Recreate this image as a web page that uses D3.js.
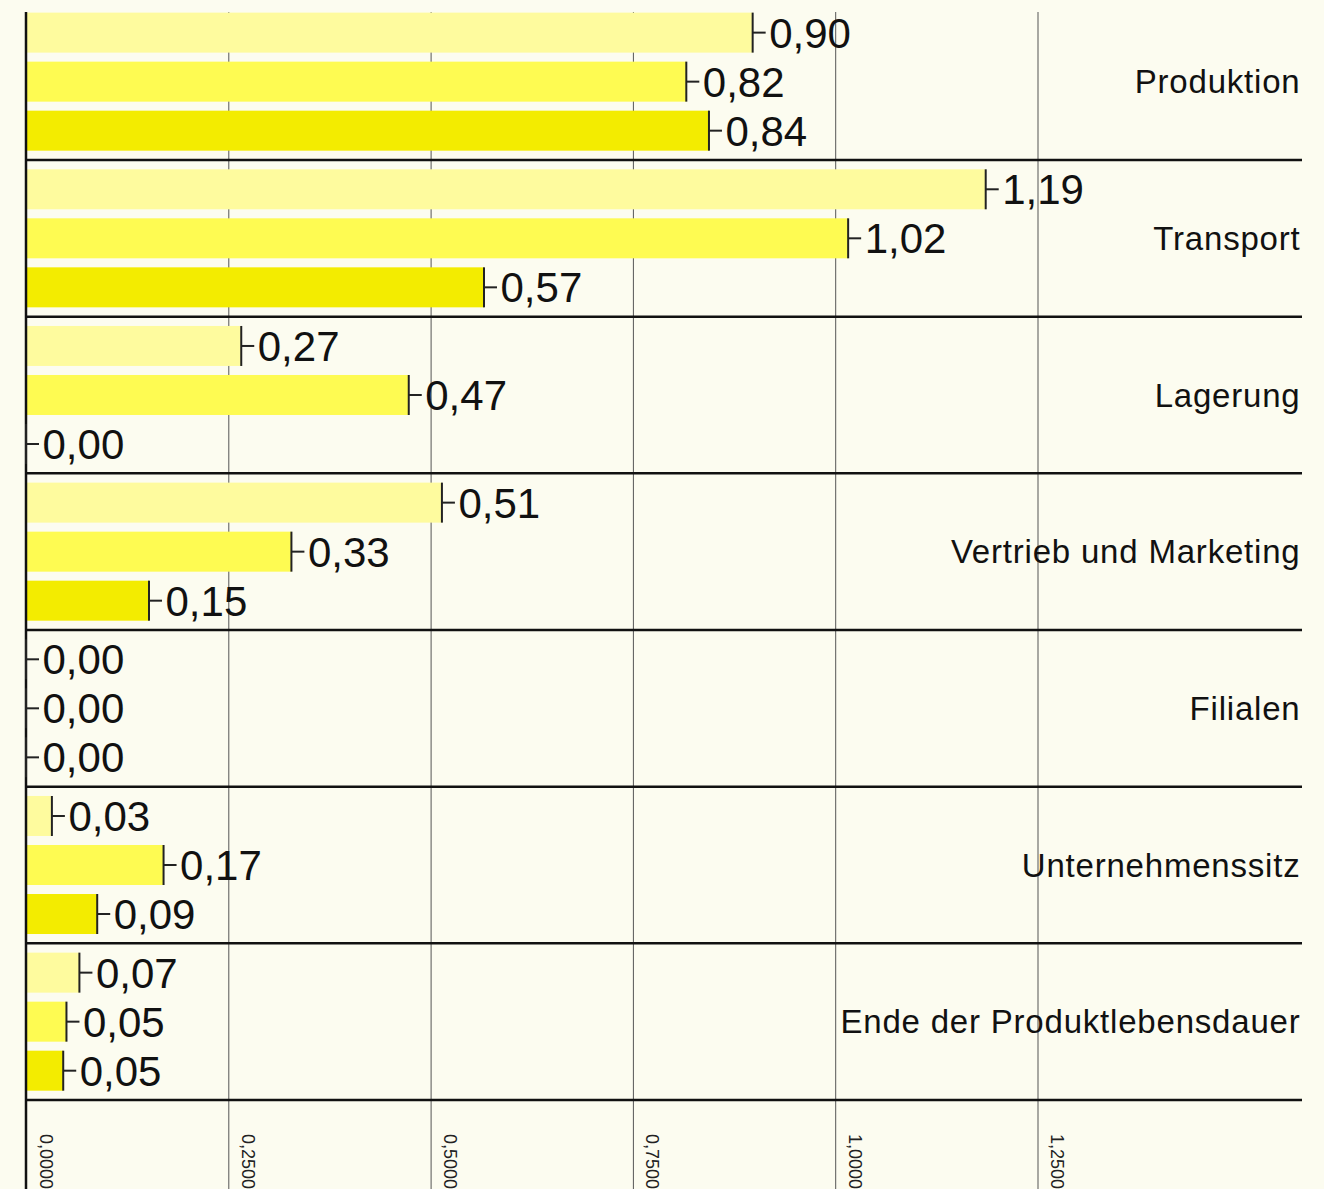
<!DOCTYPE html>
<html>
<head>
<meta charset="utf-8">
<script src="https://cdn.jsdelivr.net/npm/d3@7"></script>
<style>
  html, body { margin: 0; padding: 0; background: #FCFCF0; }
  svg { display: block; }
</style>
</head>
<body>
<svg id="chart" width="1324" height="1189"></svg>
<script>
// ---- data ----
const categories = ["Produktion", "Transport", "Lagerung", "Vertrieb und Marketing", "Filialen", "Unternehmenssitz", "Ende der Produktlebensdauer"];
const series1 = [0.898, 1.186, 0.266, 0.514, 0, 0.032, 0.066];
const series2 = [0.816, 1.016, 0.473, 0.328, 0, 0.170, 0.050];
const series3 = [0.844, 0.566, 0, 0.152, 0, 0.088, 0.046];
const seriesNames = ["s1", "s2", "s3"];
const seriesColors = ["#FEFB9E", "#FEFB52", "#F3EC00"];
const tickValues = [0, 0.25, 0.5, 0.75, 1.0, 1.25];

const W = 1324, H = 1189;
const plotTop = 12, plotBottom = 1100, plotLeft = 26, plotRight = 1302;
const groupH = 156.67;

const svg = d3.select("#chart");

const x = d3.scaleLinear().domain([0, 1.25]).range([plotLeft, 1037.5]);
const y0 = d3.scaleBand().domain(categories)
  .range([plotBottom - groupH * categories.length, plotBottom])
  .paddingInner(0).paddingOuter(0);
const y1 = d3.scaleBand().domain(seriesNames)
  .range([0, y0.bandwidth()])
  .paddingInner(0.184).paddingOuter(0.19);
const color = d3.scaleOrdinal().domain(seriesNames).range(seriesColors);

const fmt2 = v => d3.format(".2f")(v).replace(".", ",");
const fmt4 = v => d3.format(".4f")(v).replace(".", ",");

// grid + tick labels via axis
const axis = svg.append("g")
  .attr("transform", `translate(0,${H})`)
  .call(d3.axisBottom(x).tickValues(tickValues).tickSize(-(H - plotTop)).tickFormat(fmt4));
axis.select(".domain").remove();
axis.selectAll(".tick line").attr("stroke", "#555").attr("stroke-width", 1);
axis.selectAll(".tick text")
  .attr("transform", "rotate(90)")
  .attr("x", -55).attr("y", -13).attr("dy", 0)
  .attr("text-anchor", "start")
  .attr("fill", "#222")
  .style("font-family", "'Liberation Sans', Arial, sans-serif")
  .style("font-size", "18px");

const rows = [];
categories.forEach((c, i) => {
  [series1, series2, series3].forEach((s, j) => {
    rows.push({ cat: c, ser: seriesNames[j], value: s[i] });
  });
});

// bars
svg.append("g").selectAll("rect").data(rows).join("rect")
  .attr("x", x(0))
  .attr("y", d => y0(d.cat) + y1(d.ser))
  .attr("width", d => x(d.value) - x(0))
  .attr("height", y1.bandwidth())
  .attr("fill", d => color(d.ser));

// separators
svg.append("g").selectAll("line").data(categories).join("line")
  .attr("x1", plotLeft).attr("x2", plotRight)
  .attr("y1", d => y0(d) + y0.bandwidth())
  .attr("y2", d => y0(d) + y0.bandwidth())
  .attr("stroke", "#111").attr("stroke-width", 2.5);

// y axis line
svg.append("line")
  .attr("x1", plotLeft).attr("x2", plotLeft)
  .attr("y1", plotTop).attr("y2", H)
  .attr("stroke", "#111").attr("stroke-width", 2.5);

// markers
const mk = svg.append("g").selectAll("g").data(rows).join("g")
  .attr("transform", d => `translate(${x(d.value)},${y0(d.cat) + y1(d.ser)})`);
mk.append("line")
  .attr("x1", 0).attr("x2", 0).attr("y1", 0).attr("y2", y1.bandwidth())
  .attr("stroke", "#222").attr("stroke-width", 2);
mk.append("line")
  .attr("x1", 0).attr("x2", 13)
  .attr("y1", y1.bandwidth() / 2).attr("y2", y1.bandwidth() / 2)
  .attr("stroke", "#222").attr("stroke-width", 2);
mk.append("text")
  .attr("x", 16.5).attr("y", y1.bandwidth() / 2 + 15)
  .attr("fill", "#111")
  .style("font-family", "'Liberation Sans', Arial, sans-serif")
  .style("font-size", "42px")
  .text(d => fmt2(d.value));

// category labels
svg.append("g").selectAll("text").data(categories).join("text")
  .attr("x", 1300.5)
  .attr("y", d => y0(d) + y0.bandwidth() / 2 + 11.7)
  .attr("text-anchor", "end")
  .attr("fill", "#111")
  .style("font-family", "'Liberation Sans', Arial, sans-serif")
  .style("font-size", "33px")
  .style("letter-spacing", "0.8px")
  .text(d => d);
</script>
</body>
</html>
